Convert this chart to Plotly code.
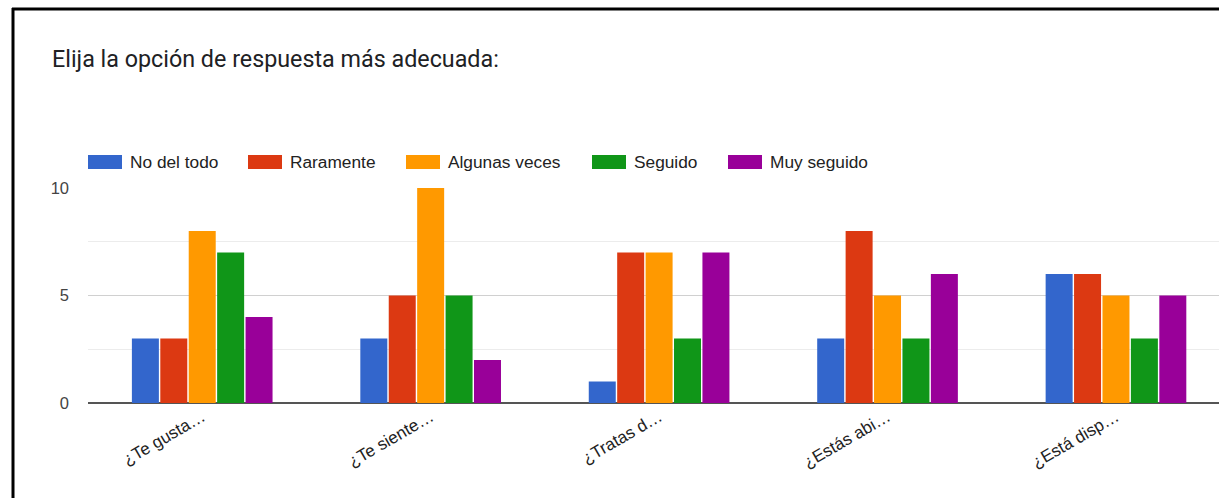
import plotly.graph_objects as go

# Survey question labels (as shown, truncated) and answer options
categories = ["¿Te gusta…", "¿Te siente…", "¿Tratas d…", "¿Estás abi…", "¿Está disp…"]
options = ["No del todo", "Raramente", "Algunas veces", "Seguido", "Muy seguido"]

# Number of responses per option, one list per option across the questions
no_del_todo = [3, 3, 1, 3, 6]
raramente = [3, 5, 7, 8, 6]
algunas_veces = [8, 10, 7, 5, 5]
seguido = [7, 5, 3, 3, 3]
muy_seguido = [4, 2, 7, 6, 5]

series = [no_del_todo, raramente, algunas_veces, seguido, muy_seguido]
colors = ["#3366cc", "#dc3912", "#ff9900", "#109618", "#990099"]

W, H = 1219, 498
ML, MR, MT, MB = 88, 0, 188, 95
PW, PH = W - ML - MR, H - MT - MB


def px_x(x):
    return (x - ML) / PW


def px_y(y):
    return (H - MB - y) / PH


fig = go.Figure()
for name, vals, col in zip(options, series, colors):
    fig.add_trace(go.Bar(
        x=categories, y=vals, name=name,
        marker=dict(color=col, line=dict(width=0)),
        showlegend=False,
        hovertemplate="%{x}<br>" + name + ": %{y}<extra></extra>",
    ))

# Legend drawn as colour swatches plus labels along one row
legend_box_left = [88, 248, 406, 592, 728]
shapes = []
annotations = []
for name, col, bx in zip(options, colors, legend_box_left):
    shapes.append(dict(
        type="rect", xref="paper", yref="paper",
        x0=px_x(bx), x1=px_x(bx + 34), y0=px_y(169), y1=px_y(155),
        fillcolor=col, line=dict(width=0),
    ))
    annotations.append(dict(
        text=name, xref="paper", yref="paper",
        x=px_x(bx + 40), y=px_y(162), xanchor="left", yanchor="middle",
        showarrow=False, font=dict(family="Liberation Sans, Arial", size=17.3, color="#222222"),
    ))

# Title
annotations.append(dict(
    text="Elija la opción de respuesta más adecuada:", xref="paper", yref="paper",
    x=px_x(50), y=px_y(59), xanchor="left", yanchor="middle", showarrow=False,
    font=dict(family="Roboto", size=23.3, color="#202124"),
))

# Frame lines at the left and top of the card
shapes.append(dict(type="line", xref="paper", yref="paper",
                   x0=px_x(13), x1=px_x(13), y0=px_y(8), y1=px_y(H + 5),
                   line=dict(color="#000000", width=3)))
shapes.append(dict(type="line", xref="paper", yref="paper",
                   x0=px_x(12), x1=px_x(W + 5), y0=px_y(9), y1=px_y(9),
                   line=dict(color="#000000", width=3)))

fig.update_layout(
    width=W, height=H,
    margin=dict(l=ML, r=MR, t=MT, b=MB, pad=0),
    paper_bgcolor="white", plot_bgcolor="white",
    barmode="group", bargap=0.378, bargroupgap=0.05,
    shapes=shapes, annotations=annotations,
    font=dict(family="Liberation Sans, Arial", size=16, color="#222222"),
)
fig.update_xaxes(
    type="category", range=[-0.5, 4.451], showgrid=False, showline=False,
    tickangle=-30, ticks="", ticklabelstandoff=0,
    tickfont=dict(family="Liberation Sans, Arial", size=17, color="#222222"),
)
fig.update_yaxes(
    range=[0, 10], tickvals=[0, 5, 10], showgrid=True, gridcolor="#d0d0d0", gridwidth=1,
    minor=dict(tickvals=[2.5, 7.5], showgrid=True, gridcolor="#ececec", gridwidth=1),
    zeroline=True, zerolinecolor="#555555", zerolinewidth=2,
    showline=False, ticks="", ticklabelstandoff=18,
    tickfont=dict(family="Liberation Sans, Arial", size=16.5, color="#444444"),
)

fig.write_html("out.html")
